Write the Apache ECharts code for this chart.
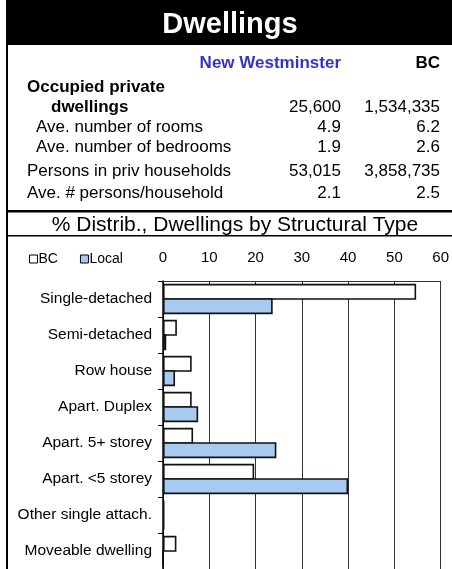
<!DOCTYPE html>
<html>
<head>
<meta charset="utf-8">
<script src="https://cdn.jsdelivr.net/npm/echarts@6/dist/echarts.min.js"></script>
<style>
  html, body { margin: 0; padding: 0; background: #fff; }
  #chart { width: 452px; height: 569px; }
</style>
</head>
<body>
<div id="chart"></div>
<script>
// table above the chart
var tableRows = [
  { label: 'Occupied private', local: '', bc: '', bold: true, x: 27, y: 87 },
  { label: 'dwellings', local: '25,600', bc: '1,534,335', bold: true, x: 51, y: 107 },
  { label: 'Ave. number of rooms', local: '4.9', bc: '6.2', bold: false, x: 36, y: 127 },
  { label: 'Ave. number of bedrooms', local: '1.9', bc: '2.6', bold: false, x: 36, y: 147 },
  { label: 'Persons in priv households', local: '53,015', bc: '3,858,735', bold: false, x: 27, y: 171 },
  { label: 'Ave. # persons/household', local: '2.1', bc: '2.5', bold: false, x: 27, y: 193 }
];

// % distribution by structural type
var categories = ['Single-detached', 'Semi-detached', 'Row house', 'Apart. Duplex',
  'Apart. 5+ storey', 'Apart. <5 storey', 'Other single attach.', 'Moveable dwelling'];
var bcValues    = [54.7, 3.0, 6.2, 6.2, 6.5, 19.7, 0.3, 2.9];
var localValues = [23.7, 0.7, 2.6, 7.6, 24.5, 40.0, 0.3, 0];
var xTicks = [0, 10, 20, 30, 40, 50, 60];

var font = 'Liberation Sans, Arial, sans-serif';

var graphics = [
  { type: 'rect', shape: { x: 6, y: 0, width: 446, height: 45 }, style: { fill: '#000' } },
  { type: 'rect', shape: { x: 6, y: 0, width: 2, height: 569 }, style: { fill: '#000' } },
  { type: 'rect', shape: { x: 6, y: 210, width: 446, height: 2.5 }, style: { fill: '#000' } },
  { type: 'rect', shape: { x: 6, y: 235, width: 446, height: 1.5 }, style: { fill: '#000' } },
  { type: 'text', x: 230, y: 25, style: { text: 'Dwellings', fill: '#fff', font: 'bold 29px ' + font, align: 'center', verticalAlign: 'middle' } },
  { type: 'text', x: 341, y: 63, style: { text: 'New Westminster', fill: '#3333cc', font: 'bold 17px ' + font, align: 'right', verticalAlign: 'middle' } },
  { type: 'text', x: 440, y: 63, style: { text: 'BC', fill: '#000', font: 'bold 17px ' + font, align: 'right', verticalAlign: 'middle' } },
  { type: 'text', x: 235, y: 225, style: { text: '% Distrib., Dwellings by Structural Type', fill: '#000', font: '21px ' + font, align: 'center', verticalAlign: 'middle' } }
];

tableRows.forEach(function (r) {
  var f = (r.bold ? 'bold ' : '') + '17px ' + font;
  graphics.push({ type: 'text', x: r.x, y: r.y, style: { text: r.label, fill: '#000', font: f, align: 'left', verticalAlign: 'middle' } });
  graphics.push({ type: 'text', x: 341, y: r.y, style: { text: r.local, fill: '#000', font: '17px ' + font, align: 'right', verticalAlign: 'middle' } });
  graphics.push({ type: 'text', x: 440, y: r.y, style: { text: r.bc, fill: '#000', font: '17px ' + font, align: 'right', verticalAlign: 'middle' } });
});

var chart = echarts.init(document.getElementById('chart'));
chart.setOption({
  animation: false,
  textStyle: { fontFamily: font },
  legend: {
    left: 24,
    top: 247,
    itemWidth: 8,
    itemHeight: 8,
    itemGap: 22,
    icon: 'rect',
    textStyle: { fontSize: 14, color: '#000', padding: [0, 0, 0, -4] },
    itemStyle: { borderColor: '#000', borderWidth: 1 },
    data: ['BC', 'Local']
  },
  grid: { left: 163, right: 10, top: 281, bottom: 0 },
  xAxis: {
    type: 'value',
    position: 'top',
    min: xTicks[0],
    max: xTicks[xTicks.length - 1],
    interval: 10,
    axisLine: { show: true, lineStyle: { color: '#333', width: 1 } },
    axisTick: { show: false },
    axisLabel: { fontSize: 15, color: '#000', margin: 16 },
    splitLine: { show: true, lineStyle: { color: '#333', width: 1 } }
  },
  yAxis: {
    type: 'category',
    inverse: true,
    data: categories,
    axisLine: { show: true, lineStyle: { color: '#000', width: 1.5 } },
    axisTick: { show: true, length: 5, lineStyle: { color: '#000' } },
    axisLabel: { fontSize: 15.5, color: '#000', margin: 11 },
    splitLine: { show: false }
  },
  series: [
    {
      name: 'BC',
      type: 'bar',
      data: bcValues,
      barWidth: 16,
      barGap: '-10%',
      itemStyle: { color: '#fff', borderColor: '#111', borderWidth: 1.6 }
    },
    {
      name: 'Local',
      type: 'bar',
      data: localValues,
      barWidth: 16,
      barGap: '-10%',
      itemStyle: { color: '#a6caf0', borderColor: '#111', borderWidth: 1.6 }
    }
  ],
  graphic: graphics
});
</script>
</body>
</html>
